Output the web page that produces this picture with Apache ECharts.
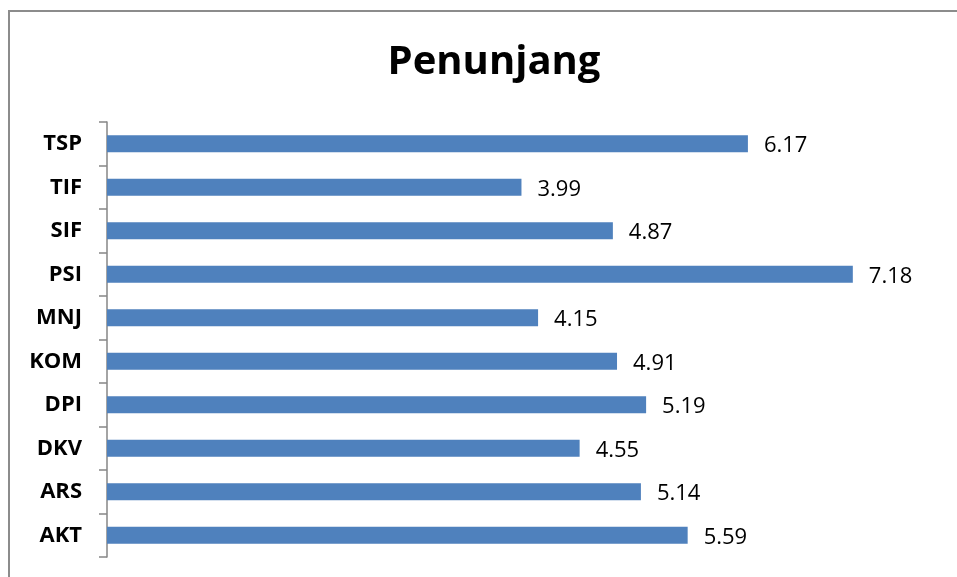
<!DOCTYPE html>
<html>
<head>
<meta charset="utf-8">
<script src="https://cdn.jsdelivr.net/npm/echarts@6/dist/echarts.min.js"></script>
<style>
html,body{margin:0;padding:0;background:#fff;}
#chart{width:957px;height:577px;}
</style>
</head>
<body>
<div id="chart"></div>
<script>
const categories = ["AKT", "ARS", "DKV", "DPI", "KOM", "MNJ", "PSI", "SIF", "TIF", "TSP"];
const values = [5.59, 5.14, 4.55, 5.19, 4.91, 4.15, 7.18, 4.87, 3.99, 6.17];
const titleText = "Penunjang";

const chart = echarts.init(document.getElementById('chart'));
chart.setOption({
  animation: false,
  backgroundColor: '#ffffff',
  graphic: [{
    type: 'polyline',
    shape: { points: [[9, 577], [9, 11], [957, 11]] },
    style: { stroke: '#8c8c8c', lineWidth: 2, fill: null },
    silent: true
  }],
  title: {
    text: titleText,
    left: 489,
    textAlign: 'center',
    top: 38,
    textStyle: { fontFamily: 'Open Sans', fontWeight: 'bold', fontSize: 40, color: '#000' }
  },
  grid: { left: 107, top: 122, right: 19, bottom: 20, containLabel: false },
  xAxis: {
    type: 'value',
    min: 0,
    max: 8,
    show: false
  },
  yAxis: {
    type: 'category',
    data: categories,
    axisLine: { show: true, lineStyle: { color: '#868686', width: 1.5 } },
    axisTick: { show: true, length: 8, alignWithLabel: false, lineStyle: { color: '#868686', width: 1.5 } },
    axisLabel: {
      margin: 25,
      fontFamily: 'Open Sans',
      fontWeight: 'bold',
      fontSize: 22,
      color: '#000'
    },
    splitLine: { show: false }
  },
  series: [{
    type: 'bar',
    data: values,
    barWidth: 17,
    itemStyle: { color: '#4f81bd' },
    label: {
      show: true,
      position: 'right',
      distance: 16,
      fontFamily: 'Open Sans',
      fontSize: 22,
      color: '#000',
      offset: [0, 2],
      formatter: p => p.value.toFixed(2)
    }
  }]
});
</script>
</body>
</html>
